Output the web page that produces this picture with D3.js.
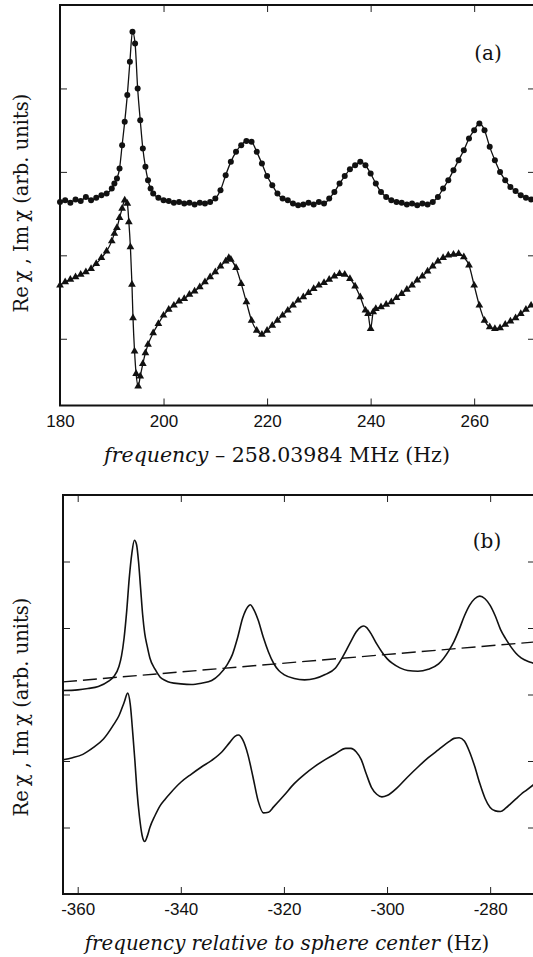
<!DOCTYPE html>
<html>
<head>
<meta charset="utf-8">
<script src="https://cdn.jsdelivr.net/npm/d3@7"></script>
<style>
  body { margin: 0; background: #fff; }
  svg { display: block; }
  .tick text { font-family: "Liberation Sans", Arial, sans-serif; font-size: 17px; fill: #111; }
  .serif { font-family: "DejaVu Serif", "Liberation Serif", serif; fill: #111; }
</style>
</head>
<body>
<div id="chart"></div>
<script>
// panel (a): measured data, frequency - 258.03984 MHz (Hz)
const freqA = [180, 181, 182, 183, 184, 185, 186, 187, 188, 189, 190, 190.5, 191, 191.5, 192, 192.5, 193, 193.5, 194, 194.5, 195, 195.5, 196, 196.5, 197, 197.5, 198, 199,
  200, 201, 202, 203, 204, 205, 206, 207, 208, 209, 210, 211, 212, 213, 214, 215, 216, 217, 218, 219, 220, 221, 222, 223, 224, 225, 226, 227, 228, 229,
  230, 231, 232, 233, 234, 235, 236, 237, 238, 239, 240, 241, 242, 243, 244, 245, 246, 247, 248, 249, 250, 251, 252, 253, 254, 255, 256, 257, 258, 259,
  260, 261, 262, 263, 264, 265, 266, 267, 268, 269, 270, 271]
const reA = [2.64, 2.66, 2.63, 2.67, 2.65, 2.70, 2.66, 2.69, 2.72, 2.74, 2.80, 2.86, 2.92, 3.04, 3.32, 3.60, 3.92, 4.32, 4.68, 4.54, 4.00, 3.62, 3.28, 3.06, 2.90, 2.80, 2.74, 2.69,
  2.66, 2.65, 2.63, 2.64, 2.62, 2.63, 2.61, 2.63, 2.62, 2.64, 2.68, 2.78, 2.96, 3.12, 3.24, 3.32, 3.37, 3.36, 3.24, 3.10, 2.95, 2.84, 2.74, 2.68, 2.66, 2.62, 2.60, 2.61, 2.63, 2.61,
  2.64, 2.62, 2.68, 2.76, 2.86, 2.95, 3.03, 3.08, 3.12, 3.08, 2.98, 2.86, 2.76, 2.70, 2.66, 2.64, 2.63, 2.61, 2.62, 2.60, 2.62, 2.61, 2.64, 2.70, 2.80, 2.90, 3.02, 3.14, 3.26, 3.40,
  3.50, 3.58, 3.50, 3.30, 3.14, 3.00, 2.90, 2.82, 2.77, 2.72, 2.69, 2.67]

const freqImA = [180, 181, 182, 183, 184, 185, 186, 187, 188, 189, 190, 190.5, 191, 191.5, 192, 192.5, 193, 193.3, 193.6, 193.9, 194.1, 194.4, 194.7, 195.1, 195.5, 196, 196.5, 197, 198, 199,
  200, 201, 202, 203, 204, 205, 206, 207, 208, 209, 210, 211, 212, 212.6, 213, 214, 215, 216, 217, 218, 219, 220, 221, 222, 223, 224, 225, 226, 227, 228, 229,
  230, 231, 232, 233, 234, 235, 236, 237, 238, 239, 239.5, 240, 240.5, 241, 242, 243, 244, 245, 246, 247, 248, 249, 250, 251, 252, 253, 254, 255, 256, 257, 258, 259,
  260, 261, 262, 263, 264, 265, 266, 267, 268, 269, 270, 271]
const imA = [1.64, 1.68, 1.71, 1.74, 1.77, 1.80, 1.84, 1.90, 1.97, 2.05, 2.17, 2.26, 2.33, 2.45, 2.56, 2.66, 2.62, 2.40, 2.10, 1.65, 1.25, 0.85, 0.58, 0.43, 0.55, 0.70, 0.83, 0.93, 1.07, 1.18,
  1.28, 1.35, 1.40, 1.45, 1.48, 1.53, 1.57, 1.62, 1.68, 1.74, 1.80, 1.87, 1.93, 1.97, 1.95, 1.85, 1.66, 1.44, 1.22, 1.10, 1.05, 1.10, 1.16, 1.22, 1.28, 1.34, 1.40, 1.46, 1.50, 1.55, 1.60,
  1.64, 1.67, 1.71, 1.75, 1.78, 1.77, 1.72, 1.63, 1.50, 1.34, 1.30, 1.12, 1.32, 1.36, 1.38, 1.41, 1.44, 1.49, 1.54, 1.59, 1.64, 1.70, 1.75, 1.81, 1.87, 1.93, 1.97, 2.00, 2.01, 2.02, 1.98, 1.88,
  1.64, 1.40, 1.22, 1.14, 1.12, 1.13, 1.17, 1.21, 1.25, 1.30, 1.35, 1.40]

const ticksXA = [180, 200, 220, 240, 260]
const ticksYA = [1, 2, 3, 4]

// panel (b): calculated curves, frequency relative to sphere center (Hz)
const freqReB = [-362.85, -360, -358, -356, -354, -353, -352, -351.5, -351, -350.5, -350, -349.5, -349, -348.6, -348.2, -347.8, -347.4, -347, -346.5, -346, -345, -344, -343, -342, -340,
  -338, -336, -334, -332.5, -331, -330, -329, -328, -327, -326.5, -326, -325, -324, -323, -322, -321, -320, -318, -316, -314, -312, -310, -308.5, -307, -306, -305, -304.5, -304,
  -303, -302, -301, -300, -299, -297.5, -296, -294, -292, -290, -288, -287, -286, -285, -284, -283, -282, -281, -280, -279, -278, -277, -276, -275, -274, -272, -271.3]
const reB = [3.06, 3.07, 3.09, 3.12, 3.20, 3.27, 3.42, 3.58, 3.85, 4.25, 4.75, 5.12, 5.32, 5.26, 5.00, 4.60, 4.20, 3.92, 3.72, 3.55, 3.38, 3.26, 3.21, 3.18, 3.16,
  3.15, 3.17, 3.21, 3.30, 3.45, 3.60, 3.85, 4.15, 4.32, 4.35, 4.30, 4.12, 3.86, 3.64, 3.47, 3.36, 3.30, 3.24, 3.22, 3.24, 3.30, 3.40, 3.58, 3.80, 3.94, 4.02, 4.03, 4.01,
  3.90, 3.76, 3.64, 3.54, 3.47, 3.40, 3.36, 3.35, 3.38, 3.46, 3.66, 3.80, 3.98, 4.18, 4.34, 4.44, 4.48, 4.44, 4.34, 4.18, 3.98, 3.84, 3.72, 3.62, 3.55, 3.48, 3.46]

const freqImB = [-362.85, -361, -359, -357, -355, -353, -352, -351, -350.3, -349.8, -349.3, -348.9, -348.5, -348, -347.5, -347, -346.5, -346, -345, -344, -343, -342, -340,
  -338, -336, -334, -332, -330.5, -329.5, -328.8, -328, -327, -326, -325, -324, -323, -322, -320, -318, -316, -314, -312, -310, -308, -307, -306, -305, -304, -303, -302, -301,
  -300, -298, -296, -294, -292, -290, -288, -287, -286, -285, -284, -283, -282, -281, -280, -279, -278, -277, -276, -275, -274, -273, -271.3]
const imB = [2.02, 2.05, 2.10, 2.20, 2.33, 2.55, 2.68, 2.88, 3.02, 2.85, 2.40, 2.00, 1.55, 1.15, 0.88, 0.79, 0.87, 1.00, 1.18, 1.33, 1.43, 1.52, 1.68,
  1.80, 1.91, 2.01, 2.14, 2.28, 2.37, 2.39, 2.32, 2.10, 1.76, 1.40, 1.22, 1.23, 1.31, 1.48, 1.66, 1.80, 1.92, 2.02, 2.11, 2.19, 2.19, 2.14, 2.02, 1.80, 1.60, 1.50, 1.46,
  1.48, 1.60, 1.76, 1.91, 2.05, 2.17, 2.29, 2.34, 2.35, 2.30, 2.14, 1.92, 1.66, 1.44, 1.30, 1.25, 1.24, 1.29, 1.36, 1.43, 1.50, 1.56, 1.66]

// dashed baseline in (b)
const freqBase = [-362.85, -271.3]
const baseB = [3.19, 3.79]

const ticksXB = [-360, -340, -320, -300, -280]
const ticksYB = [1, 2, 3, 4, 5]

const W = 533, H = 957
const svg = d3.select("#chart").append("svg")
  .attr("width", W)
  .attr("height", H)

function frame(x, y, xt, yt, fmt) {
  const [x0, x1] = x.range()
  const [y0, y1] = y.range()
  const g = svg.append("g")

  g.append("g")
    .attr("transform", `translate(0,${y0})`)
    .call(d3.axisBottom(x).tickValues(xt).tickSizeInner(-7).tickSizeOuter(0).tickPadding(9).tickFormat(fmt))
  g.append("g")
    .attr("transform", `translate(0,${y1})`)
    .call(d3.axisTop(x).tickValues(xt).tickSizeInner(-7).tickSizeOuter(0).tickFormat(""))
  g.append("g")
    .attr("transform", `translate(${x0},0)`)
    .call(d3.axisLeft(y).tickValues(yt).tickSizeInner(-7).tickSizeOuter(0).tickFormat(""))
  g.append("g")
    .attr("transform", `translate(${x1},0)`)
    .call(d3.axisRight(y).tickValues(yt).tickSizeInner(-7).tickSizeOuter(0).tickFormat(""))

  g.selectAll(".domain").remove()
  g.selectAll(".tick line").attr("stroke", "#222").attr("stroke-width", 1)

  g.append("rect")
    .attr("x", x0).attr("y", y1)
    .attr("width", x1 - x0).attr("height", y0 - y1)
    .attr("fill", "none")
    .attr("stroke", "#111")
    .attr("stroke-width", 2)
  return g
}

function yLabel(cx, cy) {
  svg.append("text")
    .attr("class", "serif")
    .attr("transform", `translate(${cx},${cy}) rotate(-90)`)
    .attr("text-anchor", "middle")
    .attr("font-size", "19.5px")
    .text("Re\u2009\u03C7 , Im\u2009\u03C7  (arb. units)")
}

// ---- panel (a)
const xA = d3.scaleLinear().domain([180, 271.75]).range([60, 535])
const yA = d3.scaleLinear().domain([0.2, 5]).range([405.5, 5])

frame(xA, yA, ticksXA, ticksYA, d => d)

const lineA = d3.line().curve(d3.curveMonotoneX)

svg.append("path")
  .attr("d", lineA(freqA.map((f, i) => [xA(f), yA(reA[i])])))
  .attr("fill", "none").attr("stroke", "#111").attr("stroke-width", 1.3)
svg.append("path")
  .attr("d", lineA(freqImA.map((f, i) => [xA(f), yA(imA[i])])))
  .attr("fill", "none").attr("stroke", "#111").attr("stroke-width", 1.3)

svg.append("g").selectAll("circle")
  .data(freqA.map((f, i) => [f, reA[i]]))
  .join("circle")
  .attr("cx", d => xA(d[0]))
  .attr("cy", d => yA(d[1]))
  .attr("r", 3)
  .attr("fill", "#111")

const tri = d3.symbol(d3.symbolTriangle).size(26)
svg.append("g").selectAll("path")
  .data(freqImA.map((f, i) => [f, imA[i]]))
  .join("path")
  .attr("d", tri)
  .attr("transform", d => `translate(${xA(d[0])},${yA(d[1])})`)
  .attr("fill", "#111")

svg.append("text")
  .attr("class", "serif")
  .attr("x", 488).attr("y", 60)
  .attr("text-anchor", "middle")
  .attr("font-size", "20px")
  .text("(a)")

yLabel(28, 203)

const tA = svg.append("text")
  .attr("class", "serif")
  .attr("x", 277).attr("y", 462)
  .attr("text-anchor", "middle")
  .attr("font-size", "20.5px")
tA.append("tspan").attr("font-style", "italic").text("frequency")
tA.append("tspan").text(" \u2013 258.03984 MHz (Hz)")

// ---- panel (b)
const xB = d3.scaleLinear().domain([-362.85, -271.3]).range([63, 535])
const yB = d3.scaleLinear().domain([0, 6]).range([894, 495])

frame(xB, yB, ticksXB, ticksYB, d => String(d))

const lineB = d3.line().curve(d3.curveMonotoneX)

svg.append("path")
  .attr("d", lineB(freqReB.map((f, i) => [xB(f), yB(reB[i])])))
  .attr("fill", "none").attr("stroke", "#111").attr("stroke-width", 1.6)
svg.append("path")
  .attr("d", lineB(freqImB.map((f, i) => [xB(f), yB(imB[i])])))
  .attr("fill", "none").attr("stroke", "#111").attr("stroke-width", 1.6)
svg.append("path")
  .attr("d", d3.line()(freqBase.map((f, i) => [xB(f), yB(baseB[i])])))
  .attr("fill", "none").attr("stroke", "#111").attr("stroke-width", 1.4)
  .attr("stroke-dasharray", "14,6")

svg.append("text")
  .attr("class", "serif")
  .attr("x", 487).attr("y", 548)
  .attr("text-anchor", "middle")
  .attr("font-size", "20px")
  .text("(b)")

yLabel(28, 707)

const tB = svg.append("text")
  .attr("class", "serif")
  .attr("x", 287).attr("y", 950)
  .attr("text-anchor", "middle")
  .attr("font-size", "19.8px")
tB.append("tspan").attr("font-style", "italic").text("frequency relative to sphere center")
tB.append("tspan").text(" (Hz)")
</script>
</body>
</html>
